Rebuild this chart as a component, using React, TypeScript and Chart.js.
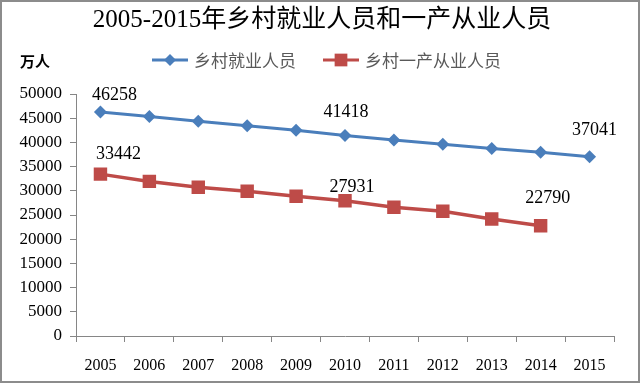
import React, { useEffect, useRef } from "react";
import { Chart, registerables } from "chart.js";

Chart.register(...registerables);

const years = ["2005", "2006", "2007", "2008", "2009", "2010", "2011", "2012", "2013", "2014", "2015"];
const ruralEmployed = [46258, 45348, 44368, 43461, 42506, 41418, 40506, 39602, 38737, 37943, 37041];
const primaryEmployed = [33442, 31941, 30731, 29923, 28890, 27931, 26594, 25773, 24171, 22790, null];
const seriesNames = ["乡村就业人员", "乡村一产从业人员"];
const titleText = "2005-2015年乡村就业人员和一产从业人员";
const unitText = "万人";
const labeledBlue = [0, 5, 10];
const labeledRed = [0, 5, 9];

const BLUE = "#4A7EBB";
const RED = "#BE4B48";
const AXIS = "#868686";
const SERIF = '"Liberation Serif", "Times New Roman", "Noto Sans CJK SC", serif';
const CJK = '"Noto Sans CJK SC", "Liberation Serif", sans-serif';

const decorPlugin = {
  id: "decor",
  beforeDraw(chart: any) {
    const ctx = chart.ctx;
    ctx.save();
    ctx.fillStyle = "#ffffff";
    ctx.fillRect(0, 0, chart.width, chart.height);
    ctx.restore();
  },
  afterDraw(chart: any) {
    const ctx = chart.ctx;
    ctx.save();
    ctx.strokeStyle = "#8c8c8c";
    ctx.lineWidth = 2;
    ctx.strokeRect(1, 1, chart.width - 2, chart.height - 2);
    ctx.fillStyle = "#000000";
    ctx.textAlign = "center";
    ctx.textBaseline = "middle";
    ctx.font = `25px ${SERIF}`;
    ctx.fillText(titleText, 322, 20);
    ctx.font = `bold 15px ${CJK}`;
    ctx.textAlign = "left";
    ctx.fillText(unitText, 20, 61);
    const items = [
      { x0: 152, x1: 188, color: BLUE, style: "rectRot", r: 6, text: seriesNames[0], tx: 194 },
      { x0: 323, x1: 359, color: RED, style: "rect", r: 9, text: seriesNames[1], tx: 365 },
    ];
    ctx.font = `17px ${CJK}`;
    for (const it of items) {
      ctx.strokeStyle = it.color;
      ctx.lineWidth = 3;
      ctx.beginPath();
      ctx.moveTo(it.x0, 60);
      ctx.lineTo(it.x1, 60);
      ctx.stroke();
      ctx.fillStyle = it.color;
      const cx = (it.x0 + it.x1) / 2;
      ctx.beginPath();
      if (it.style === "rectRot") {
        ctx.moveTo(cx, 60 - it.r);
        ctx.lineTo(cx + it.r, 60);
        ctx.lineTo(cx, 60 + it.r);
        ctx.lineTo(cx - it.r, 60);
        ctx.closePath();
      } else {
        const s = it.r * Math.SQRT1_2;
        ctx.rect(cx - s, 60 - s, 2 * s, 2 * s);
      }
      ctx.fill();
      ctx.fillStyle = "#595959";
      ctx.textAlign = "left";
      ctx.fillText(it.text, it.tx, 61);
    }
    ctx.restore();
  },
};

const labelPlugin = {
  id: "pointLabels",
  afterDatasetsDraw(chart: any, _args: any, opts: any) {
    const ctx = chart.ctx;
    ctx.save();
    ctx.font = `18px ${SERIF}`;
    ctx.fillStyle = "#000000";
    ctx.textAlign = "center";
    ctx.textBaseline = "middle";
    const groups = [
      { ds: 0, idx: labeledBlue, values: ruralEmployed, shifts: opts.blueShift },
      { ds: 1, idx: labeledRed, values: primaryEmployed, shifts: opts.redShift },
    ];
    for (const g of groups) {
      const meta = chart.getDatasetMeta(g.ds);
      g.idx.forEach((i: number, k: number) => {
        const el = meta.data[i];
        if (!el) return;
        const [dx, dy] = g.shifts[k];
        ctx.fillText(String(g.values[i]), el.x + dx, el.y + dy);
      });
    }
    ctx.restore();
  },
};

export default function App() {
  const ref = useRef<HTMLCanvasElement>(null);
  useEffect(() => {
    if (!ref.current) return;
    const chart = new Chart(ref.current, {
      type: "line",
      data: {
        labels: years,
        datasets: [
          {
            label: seriesNames[0],
            data: ruralEmployed,
            borderColor: BLUE,
            backgroundColor: BLUE,
            borderWidth: 3,
            pointStyle: "rectRot",
            pointRadius: 6.5,
            pointBorderWidth: 0,
            pointBackgroundColor: BLUE,
            tension: 0,
          },
          {
            label: seriesNames[1],
            data: primaryEmployed,
            borderColor: RED,
            backgroundColor: RED,
            borderWidth: 3.5,
            pointStyle: "rect",
            pointRadius: 9.5,
            pointBorderWidth: 0,
            pointBackgroundColor: RED,
            tension: 0,
          },
        ],
      },
      options: {
        animation: false,
        responsive: false,
        maintainAspectRatio: false,
        layout: { padding: { left: 0, top: 94, right: 26, bottom: 0 } },
        plugins: {
          legend: { display: false },
          title: { display: false },
          tooltip: { enabled: false },
          pointLabels: {
            blueShift: [[14, -17], [1, -23], [5, -26]],
            redShift: [[18, -20], [7, -14], [7, -27]],
          },
        } as any,
        scales: {
          x: {
            offset: true,
            grid: { display: true, offset: true, drawOnChartArea: false, tickLength: 6, color: AXIS },
            border: { color: AXIS, width: 1 },
            ticks: { color: "#000000", font: { family: SERIF, size: 16 }, padding: 14, maxRotation: 0 },
            afterFit: (s: any) => { s.height = 47; },
          },
          y: {
            min: 0,
            max: 50000,
            grid: { display: true, drawOnChartArea: false, tickLength: 6, color: AXIS },
            border: { color: AXIS, width: 1 },
            ticks: {
              stepSize: 5000,
              color: "#000000",
              font: { family: SERIF, size: 17 },
              padding: 8,
              callback: (v: any) => String(v),
            },
            afterFit: (s: any) => { s.width = 76; },
          },
        },
      },
      plugins: [decorPlugin, labelPlugin],
    });
    return () => chart.destroy();
  }, []);
  return (
    <div style={{ position: "fixed", left: 0, top: 0, width: 640, height: 383 }}>
      <canvas ref={ref} width={640} height={383} style={{ display: "block", width: 640, height: 383 }} />
    </div>
  );
}
